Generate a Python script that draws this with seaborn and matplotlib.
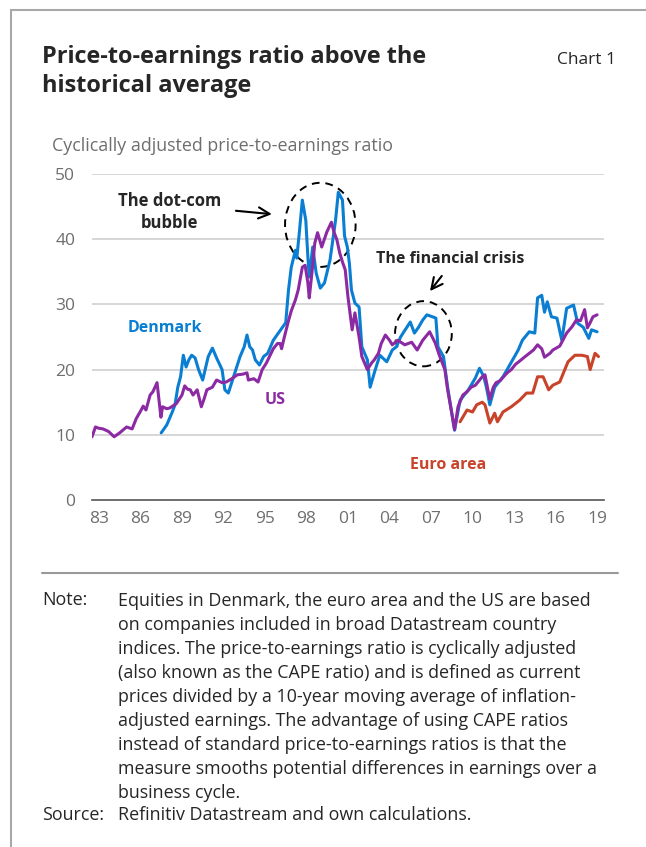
import matplotlib
matplotlib.use("Agg")
import matplotlib.pyplot as plt
from matplotlib.lines import Line2D
from matplotlib.patches import Ellipse
import seaborn as sns
import pandas as pd

# cyclically adjusted P/E ratios (decimal years)
dk_years = [1988.0, 1988.4, 1988.8, 1989.0, 1989.2, 1989.4, 1989.6, 1989.8, 1990.0, 1990.2,
            1990.45, 1990.7, 1991.0, 1991.4, 1991.7, 1992.0, 1992.4, 1992.6, 1992.85, 1993.2,
            1993.7, 1994.0, 1994.2, 1994.4, 1994.6, 1994.8, 1995.1, 1995.4, 1995.7, 1996.1,
            1996.6, 1997.0, 1997.2, 1997.4, 1997.7, 1997.8, 1998.0, 1998.2, 1998.45, 1998.6,
            1998.7, 1998.95, 1999.2, 1999.5, 1999.8, 2000.2, 2000.6, 2000.8, 2001.1, 2001.25,
            2001.45, 2001.6, 2001.75, 2002.0, 2002.3, 2002.5, 2002.9, 2003.1, 2003.4, 2003.8,
            2004.3, 2004.7, 2005.0, 2005.3, 2005.6, 2006.0, 2006.3, 2006.6, 2006.9, 2007.2,
            2007.6, 2007.85, 2008.0, 2008.4, 2008.7, 2009.1, 2009.2, 2009.6, 2010.2, 2010.7,
            2011.0, 2011.3, 2011.5, 2011.75, 2012.1, 2012.7, 2013.0, 2013.4, 2013.8, 2014.1,
            2014.6, 2015.0, 2015.2, 2015.5, 2015.7, 2015.9, 2016.2, 2016.6, 2016.95, 2017.3,
            2017.8, 2018.1, 2018.5, 2018.9, 2019.1, 2019.5]
dk_values = [10.3, 11.5, 13.5, 14.6, 17.3, 18.9, 22.2, 20.4, 21.5, 22.2,
             21.8, 20.0, 18.4, 22.0, 23.3, 21.8, 20.0, 16.9, 16.4, 18.7,
             22.0, 23.5, 25.3, 23.5, 23.0, 21.5, 20.7, 22.0, 22.5, 24.5,
             26.0, 27.2, 32.2, 35.7, 38.3, 37.1, 41.4, 46.0, 42.9, 37.3,
             34.2, 38.8, 34.8, 32.5, 33.3, 36.8, 42.9, 47.2, 46.0, 40.5,
             38.8, 36.3, 32.2, 30.2, 29.6, 23.5, 21.5, 17.3, 19.5, 22.2,
             21.2, 23.0, 23.5, 25.0, 26.0, 27.3, 25.6, 26.5, 27.6, 28.4,
             28.1, 27.9, 23.5, 22.0, 17.3, 12.0, 10.7, 15.3, 16.9, 18.7,
             20.2, 19.0, 17.3, 14.6, 17.3, 18.9, 20.0, 21.5, 23.0, 24.5,
             25.8, 25.6, 31.0, 31.4, 28.8, 30.4, 28.1, 27.9, 24.5, 29.4,
             29.9, 27.1, 26.5, 24.8, 26.1, 25.8]

us_years = [1983.0, 1983.25, 1983.5, 1983.8, 1984.2, 1984.6, 1985.0, 1985.5, 1985.9, 1986.2,
            1986.5, 1986.7, 1986.9, 1987.2, 1987.4, 1987.7, 1987.98, 1988.1, 1988.4, 1988.6,
            1988.9, 1989.1, 1989.5, 1989.7, 1989.9, 1990.1, 1990.3, 1990.6, 1990.9, 1991.1,
            1991.3, 1991.7, 1992.0, 1992.4, 1992.7, 1993.1, 1993.5, 1993.9, 1994.2, 1994.3,
            1994.7, 1995.0, 1995.3, 1995.6, 1996.1, 1996.4, 1996.6, 1996.7, 1996.9, 1997.2,
            1997.4, 1997.7, 1997.9, 1998.2, 1998.4, 1998.6, 1998.7, 1998.9, 1999.1, 1999.3,
            1999.6, 1999.97, 2000.3, 2000.5, 2000.7, 2000.9, 2001.1, 2001.3, 2001.5, 2001.8,
            2002.0, 2002.3, 2002.5, 2002.7, 2002.9, 2003.2, 2003.4, 2003.7, 2003.9, 2004.2,
            2004.5, 2004.7, 2005.1, 2005.6, 2006.1, 2006.5, 2006.9, 2007.4, 2007.8, 2008.1,
            2008.5, 2008.7, 2009.0, 2009.2, 2009.45, 2009.8, 2010.1, 2010.4, 2010.7, 2011.2,
            2011.4, 2011.6, 2011.75, 2012.0, 2012.2, 2012.5, 2012.7, 2013.0, 2013.3, 2013.6,
            2013.9, 2014.3, 2014.6, 2014.9, 2015.2, 2015.5, 2015.7, 2016.1, 2016.3, 2016.8,
            2017.3, 2017.7, 2018.0, 2018.3, 2018.6, 2018.8, 2019.0, 2019.2, 2019.5]
us_values = [9.7, 11.2, 11.0, 10.9, 10.5, 9.7, 10.3, 11.2, 10.9, 12.5,
             13.6, 14.4, 13.8, 16.1, 16.6, 18.0, 12.7, 14.3, 14.0, 14.1,
             14.5, 14.8, 16.1, 17.5, 17.0, 16.9, 16.1, 16.9, 14.3, 15.5,
             16.9, 17.3, 18.4, 18.0, 18.1, 18.6, 19.2, 19.3, 19.5, 18.4,
             18.6, 18.1, 20.0, 21.0, 23.2, 24.0, 24.0, 23.2, 25.0, 27.5,
             29.0, 30.7, 32.2, 35.7, 36.0, 33.3, 31.0, 35.0, 39.4, 41.0,
             38.8, 41.1, 42.6, 41.0, 39.9, 37.9, 36.5, 35.3, 31.1, 26.1,
             28.7, 25.0, 22.0, 21.0, 20.0, 21.0, 21.5, 22.5, 24.0, 25.3,
             24.5, 23.8, 24.5, 23.8, 24.2, 23.0, 24.5, 25.8, 24.1, 22.2,
             20.0, 16.9, 13.3, 10.8, 14.3, 16.1, 16.6, 17.3, 17.6, 18.9,
             19.2, 17.0, 15.5, 17.3, 18.0, 18.3, 18.8, 19.5, 20.0, 20.8,
             21.3, 22.0, 22.5, 23.0, 23.8, 23.2, 21.9, 22.5, 23.0, 23.6,
             25.6, 26.6, 27.6, 27.5, 29.2, 26.4, 27.2, 28.1, 28.4]

ea_years = [2009.6, 2010.1, 2010.5, 2010.8, 2011.2, 2011.4, 2011.75, 2012.1, 2012.3, 2012.7,
            2013.3, 2013.9, 2014.4, 2014.85, 2015.2, 2015.6, 2016.0, 2016.3, 2016.8, 2017.4,
            2017.9, 2018.4, 2018.8, 2019.0, 2019.35, 2019.6]
ea_values = [12.0, 13.8, 13.5, 14.6, 15.0, 14.6, 11.8, 13.3, 12.0, 13.5,
             14.3, 15.3, 16.4, 16.4, 18.9, 18.9, 16.9, 17.6, 18.1, 21.2,
             22.2, 22.2, 22.0, 20.0, 22.5, 22.0]

tick_labels = ["83", "86", "89", "92", "95", "98", "01", "04", "07", "10", "13", "16", "19"]

blue = "#0a7ed2"
purple = "#8c2aa3"
red = "#c9432a"
grey = "#6e6e6e"

sns.set_style("white")
plt.rcParams["font.family"] = ["Open Sans", "DejaVu Sans"]

W, H = 646, 847
fig = plt.figure(figsize=(W / 100, H / 100), dpi=100)
ax = fig.add_axes([92 / W, 1 - 500 / H, 512 / W, 326 / H])

dk = pd.DataFrame({"year": dk_years, "cape": dk_values})
us = pd.DataFrame({"year": us_years, "cape": us_values})
ea = pd.DataFrame({"year": ea_years, "cape": ea_values})
sns.lineplot(data=dk, x="year", y="cape", color=blue, lw=2.2, ax=ax)
sns.lineplot(data=ea, x="year", y="cape", color=red, lw=2.2, ax=ax)
sns.lineplot(data=us, x="year", y="cape", color=purple, lw=2.2, ax=ax)

ax.set_xlim(1983, 2020)
ax.set_ylim(0, 50)
ax.set_xlabel("")
ax.set_ylabel("")
for s in ["top", "right", "left"]:
    ax.spines[s].set_visible(False)
ax.spines["bottom"].set_color("#555555")
ax.spines["bottom"].set_linewidth(1.2)

ax.set_yticks(range(0, 51, 10))
ax.tick_params(axis="y", length=0, pad=12, labelsize=12.5, labelcolor=grey)
for v in range(10, 51, 10):
    ax.axhline(v, color="#d0d0d0", lw=1.2, zorder=0)

ax.set_xticks(range(1983, 2021))
ax.set_xticklabels([])
ax.tick_params(axis="x", which="major", direction="in", length=5, color="#555555", width=1)
ax.set_xticks([1983.5 + 3 * i for i in range(len(tick_labels))], minor=True)
ax.set_xticklabels(tick_labels, minor=True)
ax.tick_params(axis="x", which="minor", length=0, pad=8, labelsize=12.5, labelcolor=grey)

# series labels
ax.text(1988.3, 26.4, "Denmark", color=blue, fontsize=11.5, fontweight="bold", ha="center", va="center")
ax.text(1996.2, 15.3, "US", color=purple, fontsize=11.5, fontweight="bold", ha="center", va="center")
ax.text(2008.7, 5.4, "Euro area", color=red, fontsize=11.5, fontweight="bold", ha="center", va="center")

# annotations
ax.text(1988.6, 44.2, "The dot-com\nbubble", fontsize=12, fontweight="bold", ha="center", va="center",
        linespacing=1.3)
ax.annotate("", xy=(1996.2, 43.8), xytext=(1993.2, 44.4),
            arrowprops=dict(arrowstyle="->", color="black", lw=1.5, mutation_scale=20))
ax.add_patch(Ellipse((1999.5, 42.2), 5.1, 12.9, fill=False, ls=(0, (4, 3)), lw=1.4, color="black"))

ax.text(2008.9, 37.0, "The financial crisis", fontsize=11.5, fontweight="bold", ha="center", va="center")
ax.annotate("", xy=(2007.3, 31.7), xytext=(2008.4, 34.7),
            arrowprops=dict(arrowstyle="->", color="black", lw=1.5, mutation_scale=20))
ax.add_patch(Ellipse((2006.95, 25.5), 4.1, 10.0, fill=False, ls=(0, (4, 3)), lw=1.4, color="black"))

# header
fig.text(42 / W, 1 - 71.5 / H, "Price-to-earnings ratio above the\nhistorical average", fontsize=16.9,
         fontweight="bold", ha="left", va="center", linespacing=1.3)
fig.text(616 / W, 1 - 60 / H, "Chart 1", fontsize=12.5, ha="right", va="center")
fig.text(52 / W, 1 - 146 / H, "Cyclically adjusted price-to-earnings ratio", fontsize=12.9,
         color=grey, ha="left", va="center")

# frame and divider
fig.add_artist(Line2D([11 / W, 11 / W], [0, 1 - 10 / H], color="#a8a8a8", lw=1.5))
fig.add_artist(Line2D([11 / W, 1], [1 - 10 / H, 1 - 10 / H], color="#a8a8a8", lw=1.5))
fig.add_artist(Line2D([42 / W, 618 / W], [1 - 573 / H, 1 - 573 / H], color="#999999", lw=1.5))

note = ("Equities in Denmark, the euro area and the US are based\n"
        "on companies included in broad Datastream country\n"
        "indices. The price-to-earnings ratio is cyclically adjusted\n"
        "(also known as the CAPE ratio) and is defined as current\n"
        "prices divided by a 10-year moving average of inflation-\n"
        "adjusted earnings. The advantage of using CAPE ratios\n"
        "instead of standard price-to-earnings ratios is that the\n"
        "measure smooths potential differences in earnings over a\n"
        "business cycle.")
fig.text(42 / W, 1 - 600 / H, "Note:", fontsize=12.9, ha="left", va="center")
fig.text(118 / W, 1 - 697 / H, note, fontsize=12.9, ha="left", va="center", linespacing=1.43)
fig.text(42 / W, 1 - 815 / H, "Source:", fontsize=12.9, ha="left", va="center")
fig.text(118 / W, 1 - 815 / H, "Refinitiv Datastream and own calculations.", fontsize=12.9,
         ha="left", va="center")

fig.savefig("out.png", dpi=100)
